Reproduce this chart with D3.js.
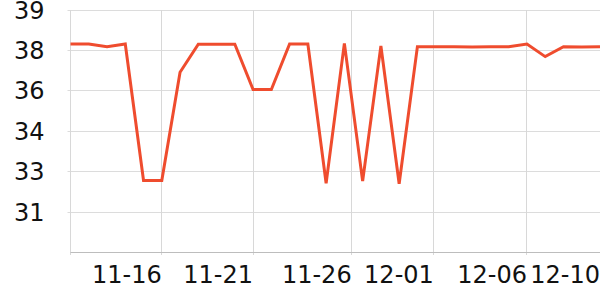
<!DOCTYPE html>
<html>
<head>
<meta charset="utf-8">
<script src="https://cdn.jsdelivr.net/npm/d3@7"></script>
<style>
  html, body { margin: 0; padding: 0; background: #fff; }
  svg { display: block; }
  text { font-family: "DejaVu Sans", sans-serif; }
</style>
</head>
<body>
<svg id="chart" width="600" height="300"></svg>
<script>
// ---- data ----
const dates = ["11-11","11-12","11-13","11-14","11-15","11-16","11-17","11-18","11-19","11-20",
               "11-21","11-22","11-23","11-24","11-25","11-26","11-27","11-28","11-29","11-30",
               "12-01","12-02","12-03","12-04","12-05","12-06","12-07","12-08","12-09","12-10"];
const values = [37.74, 37.74, 37.64, 37.74, 32.67, 32.67, 36.69, 37.73, 37.73, 37.73,
                36.05, 36.05, 37.74, 37.74, 32.57, 37.76, 32.65, 37.67, 32.55, 37.64,
                37.64, 37.64, 37.63, 37.64, 37.64, 37.74, 37.27, 37.64, 37.63, 37.64];
// x tick positions (in day-index units) and their labels
const xTickPos    = [0, 5, 10, 15.4, 19.9, 25, 29];
const xTickLabels = ["", "11-16", "11-21", "11-26", "12-01", "12-06", "12-10"];
// y ticks and labels
const yTickValues = [30, 31.5, 33, 34.5, 36, 37.5, 39];
const yTickLabels = ["", "31", "33", "34", "36", "38", "39"];

// ---- chart ----
const svg = d3.select("#chart");
const mLeft = 70.5, mRight = 600, mTop = 10, mBottom = 252.5;

const x = d3.scaleLinear().domain([0, dates.length - 1]).range([mLeft, mRight]);
const y = d3.scaleLinear().domain([30, 39]).range([mBottom, mTop]);

const crisp = v => Math.round(v - 0.5) + 0.5;

// horizontal gridlines
svg.append("g").selectAll("line")
  .data(yTickValues.slice(1))
  .join("line")
  .attr("x1", mLeft - 3).attr("x2", mRight)
  .attr("y1", d => crisp(y(d))).attr("y2", d => crisp(y(d)))
  .attr("stroke", "#dcdcdc").attr("stroke-width", 1);

// vertical gridlines (skip last)
svg.append("g").selectAll("line")
  .data(xTickPos.slice(0, -1))
  .join("line")
  .attr("x1", d => crisp(x(d))).attr("x2", d => crisp(x(d)))
  .attr("y1", mTop).attr("y2", mBottom + 2.5)
  .attr("stroke", "#d8d8d8").attr("stroke-width", 1);

// bottom axis line
svg.append("line")
  .attr("x1", mLeft).attr("x2", mRight)
  .attr("y1", crisp(mBottom)).attr("y2", crisp(mBottom))
  .attr("stroke", "#bdbdbd").attr("stroke-width", 1);

// y labels
svg.append("g").selectAll("text")
  .data(yTickValues)
  .join("text")
  .attr("x", 44.5)
  .attr("y", d => y(d))
  .attr("dy", "0.36em")
  .attr("text-anchor", "end")
  .attr("font-size", 24)
  .attr("fill", "#111")
  .text((d, i) => yTickLabels[i]);

// x labels
svg.append("g").selectAll("text")
  .data(xTickPos)
  .join("text")
  .attr("x", d => x(d))
  .attr("y", 282.5)
  .attr("text-anchor", "end")
  .attr("font-size", 24)
  .attr("fill", "#111")
  .text((d, i) => xTickLabels[i]);

// line
const line = d3.line()
  .x((d, i) => x(i))
  .y(d => y(d));

svg.append("path")
  .datum(values)
  .attr("d", line)
  .attr("fill", "none")
  .attr("stroke", "#ef4c2e")
  .attr("stroke-width", 3)
  .attr("stroke-linejoin", "miter");
</script>
</body>
</html>
